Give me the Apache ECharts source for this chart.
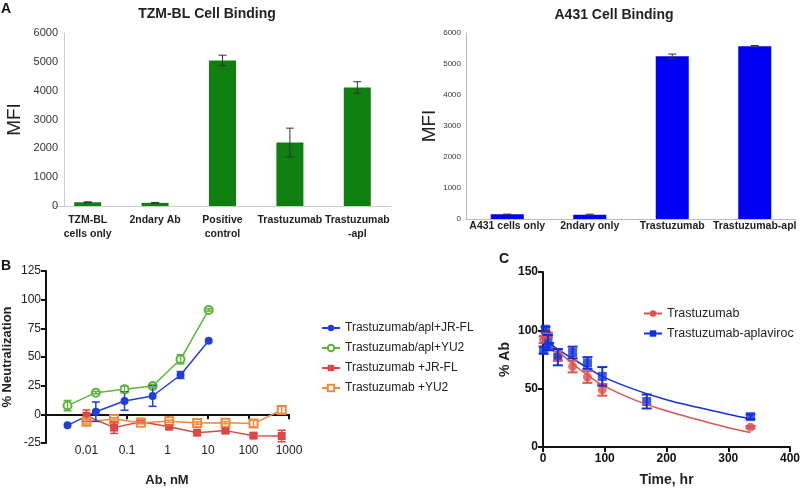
<!DOCTYPE html>
<html>
<head>
<meta charset="utf-8">
<script src="https://cdn.jsdelivr.net/npm/echarts@6/dist/echarts.min.js"></script>
<style>
  html, body { margin: 0; padding: 0; background: #fff; }
  #main { width: 800px; height: 488px; }
</style>
</head>
<body>
<div id="main"></div>
<script>
// panel A left - TZM-BL binding
const tzmCats = ['TZM-BL\ncells only', '2ndary Ab', 'Positive\ncontrol', 'Trastuzumab', 'Trastuzumab\n-apl']
const tzmMfi = [130, 110, 5050, 2200, 4110]
const tzmErr = [15, 12, 180, 500, 200]

// panel A right - A431 binding
const a431Cats = ['A431 cells only', '2ndary only', 'Trastuzumab', 'Trastuzumab-apl']
const a431Mfi = [150, 140, 5250, 5570]
const a431Err = [8, 15, 70, 25]

// panel B - neutralization
const aplDose = [0.0034, 0.017, 0.087, 0.43, 2.1, 10.4]
const trasDose = [0.01, 0.048, 0.22, 1.1, 5.4, 27, 133, 660]
const aplJrfl = [-9.6, 2.3, 11.6, 16, 34.3, 64.2]
const aplJrflErr = [0, 8.5, 8, 9, 3, 0]
const aplYu2 = [7.6, 18.9, 21.8, 24.7, 48, 91]
const aplYu2Err = [4.5, 1, 3, 1.5, 4, 1]
const trasJrfl = [-1.2, -11.6, -6.4, -10.8, -16, -14.2, -18.6, -18.9]
const trasJrflErr = [5, 5, 1, 1.5, 1, 2, 1.5, 5]
const trasYu2 = [-6.4, -4, -7.3, -6.1, -7.6, -7.3, -8.1, 3.8]
const trasYu2Err = [2, 1, 1, 1, 1, 1, 3, 3]

// panel C - clearance
const trasTime = [1, 4, 8, 24, 48, 72, 96, 336]
const trasPct = [92, 96, 96, 78, 69, 60, 49, 17]
const trasPctErr = [3, 2, 2, 4, 5, 5, 5, 1]
const aplTime = [1, 4, 8, 10, 24, 48, 72, 96, 168, 336]
const aplPct = [83, 101, 92, 86, 77, 81, 72, 60.5, 39, 26]
const aplPctErr = [3, 2, 4, 3, 7, 5, 5, 8, 6, 2]
// fitted curves
const curveTime = [0, 25, 50, 75, 100, 150, 200, 250, 300, 336]
const trasCurve = [95, 82, 70.5, 60.5, 52, 40, 31, 23.5, 16.5, 12.5]
const aplCurve = [93, 83.5, 75, 67, 59.5, 49, 40.5, 34, 28, 24]

const font = '"Liberation Sans", Arial, sans-serif'

function pairs(xs, ys) {
  return xs.map((x, i) => [x, ys[i]])
}
function errRows(xs, ys, es) {
  return xs.map((x, i) => [x, ys[i] - es[i], ys[i] + es[i]]).filter((r, i) => es[i] > 0)
}
function errSeries(xi, yi, rows, color, cap, width) {
  return {
    type: 'custom',
    xAxisIndex: xi,
    yAxisIndex: yi,
    silent: true,
    z: 5,
    data: rows,
    renderItem: function (params, api) {
      const lo = api.coord([api.value(0), api.value(1)])
      const hi = api.coord([api.value(0), api.value(2)])
      const st = { stroke: color, lineWidth: width }
      return {
        type: 'group',
        children: [
          { type: 'line', shape: { x1: lo[0], y1: lo[1], x2: hi[0], y2: hi[1] }, style: st },
          { type: 'line', shape: { x1: lo[0] - cap, y1: lo[1], x2: lo[0] + cap, y2: lo[1] }, style: st },
          { type: 'line', shape: { x1: hi[0] - cap, y1: hi[1], x2: hi[0] + cap, y2: hi[1] }, style: st }
        ]
      }
    }
  }
}

const chart = echarts.init(document.getElementById('main'))

const blackAxis = {
  axisLine: { show: true, onZero: false, lineStyle: { color: '#111', width: 2 } },
  axisTick: { show: true, length: 5, lineStyle: { color: '#111', width: 2 } },
  splitLine: { show: false }
}
const plain = v => String(v)

const option = {
  animation: false,
  textStyle: { fontFamily: font },
  title: [
    { text: 'TZM-BL Cell Binding', left: 202, top: 2, textAlign: 'center',
      textStyle: { fontSize: 14, fontWeight: 'bold', color: '#222', fontFamily: font } },
    { text: 'A431 Cell Binding', left: 609, top: 3, textAlign: 'center',
      textStyle: { fontSize: 14, fontWeight: 'bold', color: '#222', fontFamily: font } }
  ],
  graphic: [
    { type: 'text', left: 1, top: 2, style: { text: 'A', font: 'bold 14px ' + font, fill: '#111' } },
    { type: 'text', left: 1, top: 259, style: { text: 'B', font: 'bold 14px ' + font, fill: '#111' } },
    { type: 'text', left: 499, top: 252, style: { text: 'C', font: 'bold 14px ' + font, fill: '#111' } },
    // x-axis title of panel B (kept apart from the on-zero axis)
    { type: 'text', x: 167, y: 480, style: { text: 'Ab, nM', font: 'bold 13px ' + font, fill: '#222',
      textAlign: 'center', textVerticalAlign: 'middle' } }
  ],
  legend: [
    {
      left: 316, top: 317, orient: 'vertical', itemWidth: 18, itemHeight: 8, itemGap: 8,
      textStyle: { fontSize: 12, color: '#222' },
      data: ['Trastuzumab/apl+JR-FL', 'Trastuzumab/apl+YU2', 'Trastuzumab +JR-FL', 'Trastuzumab +YU2']
    },
    {
      left: 638, top: 302, orient: 'vertical', itemWidth: 18, itemHeight: 8, itemGap: 7,
      textStyle: { fontSize: 12.5, color: '#222' },
      data: ['Trastuzumab', 'Trastuzumab-aplaviroc']
    }
  ],
  grid: [
    { left: 54, top: 33, width: 337, height: 173, outerBoundsMode: 'none' },
    { left: 466, top: 33, width: 330, height: 186, outerBoundsMode: 'none' },
    { left: 46, top: 271, width: 243, height: 172, outerBoundsMode: 'none' },
    { left: 543, top: 272, width: 247, height: 175, outerBoundsMode: 'none' }
  ],
  xAxis: [
    {
      gridIndex: 0, type: 'category', data: tzmCats,
      axisLine: { lineStyle: { color: '#ccc' } }, axisTick: { show: false },
      axisLabel: { fontSize: 10.5, fontWeight: 'bold', color: '#222', margin: 7, lineHeight: 14, interval: 0 }
    },
    {
      gridIndex: 1, type: 'category', data: a431Cats,
      axisLine: { lineStyle: { color: '#bbb' } }, axisTick: { show: false },
      axisLabel: { fontSize: 10.5, fontWeight: 'bold', color: '#222', margin: 2, interval: 0 }
    },
    Object.assign({}, blackAxis, {
      gridIndex: 2, type: 'log', logBase: 10, min: 0.001, max: 1000,
      axisLine: { show: true, onZero: true, lineStyle: { color: '#111', width: 2 } },
      axisTick: { show: true, inside: false, length: 5, lineStyle: { color: '#111', width: 2 } },
      axisLabel: { fontSize: 12, color: '#222', margin: 2, showMinLabel: false,
        formatter: v => String(+v.toPrecision(3)) },
      minorTick: { show: false }
    }),
    Object.assign({}, blackAxis, {
      gridIndex: 3, type: 'value', min: 0, max: 400, interval: 100,
      axisLabel: { fontSize: 12, fontWeight: 'bold', color: '#111', margin: 6 },
      name: 'Time, hr', nameLocation: 'middle', nameGap: 26,
      nameTextStyle: { fontSize: 14, fontWeight: 'bold', color: '#222' }
    })
  ],
  yAxis: [
    {
      gridIndex: 0, type: 'value', min: 0, max: 6000, interval: 1000, offset: -10,
      axisLine: { show: true, lineStyle: { color: '#ccc' } }, axisTick: { show: false },
      splitLine: { show: false },
      axisLabel: { fontSize: 11, color: '#333', margin: 6, formatter: plain },
      name: 'MFI', nameLocation: 'middle', nameGap: 40,
      nameTextStyle: { fontSize: 19, color: '#222' }
    },
    {
      gridIndex: 1, type: 'value', min: 0, max: 6000, interval: 1000,
      axisLine: { show: true, lineStyle: { color: '#bbb' } }, axisTick: { show: false },
      splitLine: { show: false },
      axisLabel: { fontSize: 8, color: '#333', margin: 5, formatter: plain },
      name: 'MFI', nameLocation: 'middle', nameGap: 24,
      nameTextStyle: { fontSize: 19, color: '#222' }
    },
    Object.assign({}, blackAxis, {
      gridIndex: 2, type: 'value', min: -25, max: 125, interval: 25,
      axisLabel: { fontSize: 12, color: '#222', margin: 5 },
      name: '% Neutralization', nameLocation: 'middle', nameGap: 32,
      nameTextStyle: { fontSize: 13, fontWeight: 'bold', color: '#222' }
    }),
    Object.assign({}, blackAxis, {
      gridIndex: 3, type: 'value', min: 0, max: 150, interval: 50,
      axisLabel: { fontSize: 12, fontWeight: 'bold', color: '#111', margin: 5 },
      name: '% Ab', nameLocation: 'middle', nameGap: 31,
      nameTextStyle: { fontSize: 14, fontWeight: 'bold', color: '#222' }
    })
  ],
  series: [
    // A left
    { type: 'bar', xAxisIndex: 0, yAxisIndex: 0, barWidth: 27, data: tzmMfi,
      itemStyle: { color: '#0f800f' } },
    errSeries(0, 0, tzmMfi.map((v, i) => [i, v - tzmErr[i], v + tzmErr[i]]), '#333', 4, 1),
    // A right
    { type: 'bar', xAxisIndex: 1, yAxisIndex: 1, barWidth: 33, data: a431Mfi,
      itemStyle: { color: '#0000f2' } },
    errSeries(1, 1, a431Mfi.map((v, i) => [i, v - a431Err[i], v + a431Err[i]]), '#333', 4, 1),
    // B
    { name: 'Trastuzumab/apl+JR-FL', type: 'line', xAxisIndex: 2, yAxisIndex: 2,
      data: pairs(aplDose, aplJrfl), symbol: 'circle', symbolSize: 8,
      lineStyle: { width: 1.5, color: '#1f3fdd' }, itemStyle: { color: '#1f3fdd' } },
    { name: 'Trastuzumab/apl+YU2', type: 'line', xAxisIndex: 2, yAxisIndex: 2,
      data: pairs(aplDose, aplYu2), symbol: 'emptyCircle', symbolSize: 8,
      lineStyle: { width: 1.5, color: '#5db43a' }, itemStyle: { color: '#5db43a', borderWidth: 1.5 } },
    { name: 'Trastuzumab +JR-FL', type: 'line', xAxisIndex: 2, yAxisIndex: 2,
      data: pairs(trasDose, trasJrfl), symbol: 'rect', symbolSize: 8,
      lineStyle: { width: 1.5, color: '#de4646' }, itemStyle: { color: '#de4646' } },
    { name: 'Trastuzumab +YU2', type: 'line', xAxisIndex: 2, yAxisIndex: 2,
      data: pairs(trasDose, trasYu2), symbol: 'emptyRect', symbolSize: 8,
      lineStyle: { width: 1.5, color: '#f08a3c' }, itemStyle: { color: '#f08a3c', borderWidth: 1.5 } },
    errSeries(2, 2, errRows(aplDose, aplJrfl, aplJrflErr), '#1f3fdd', 4, 1.5),
    errSeries(2, 2, errRows(aplDose, aplYu2, aplYu2Err), '#5db43a', 4, 1.5),
    errSeries(2, 2, errRows(trasDose, trasJrfl, trasJrflErr), '#de4646', 4, 1.5),
    errSeries(2, 2, errRows(trasDose, trasYu2, trasYu2Err), '#f08a3c', 4, 1.5),
    // C
    { name: 'Trastuzumab', type: 'line', xAxisIndex: 3, yAxisIndex: 3,
      data: pairs(curveTime, trasCurve), smooth: 0.4, symbol: 'circle', symbolSize: 8, showSymbol: false,
      lineStyle: { width: 1.5, color: '#dc5450' }, itemStyle: { color: '#dc5450' } },
    { name: 'Trastuzumab-aplaviroc', type: 'line', xAxisIndex: 3, yAxisIndex: 3,
      data: pairs(curveTime, aplCurve), smooth: 0.4, symbol: 'rect', symbolSize: 8, showSymbol: false,
      lineStyle: { width: 1.5, color: '#1230dc' }, itemStyle: { color: '#1230dc' } },
    { name: 'Trastuzumab', type: 'scatter', xAxisIndex: 3, yAxisIndex: 3,
      data: pairs(trasTime, trasPct), symbol: 'circle', symbolSize: 9,
      itemStyle: { color: '#dc5450' } },
    { name: 'Trastuzumab-aplaviroc', type: 'scatter', xAxisIndex: 3, yAxisIndex: 3,
      data: pairs(aplTime, aplPct), symbol: 'rect', symbolSize: 9,
      itemStyle: { color: '#1230dc' } },
    errSeries(3, 3, errRows(trasTime, trasPct, trasPctErr), '#dc5450', 5, 2),
    errSeries(3, 3, errRows(aplTime, aplPct, aplPctErr), '#1230dc', 5, 2)
  ]
}

chart.setOption(option)
</script>
</body>
</html>
